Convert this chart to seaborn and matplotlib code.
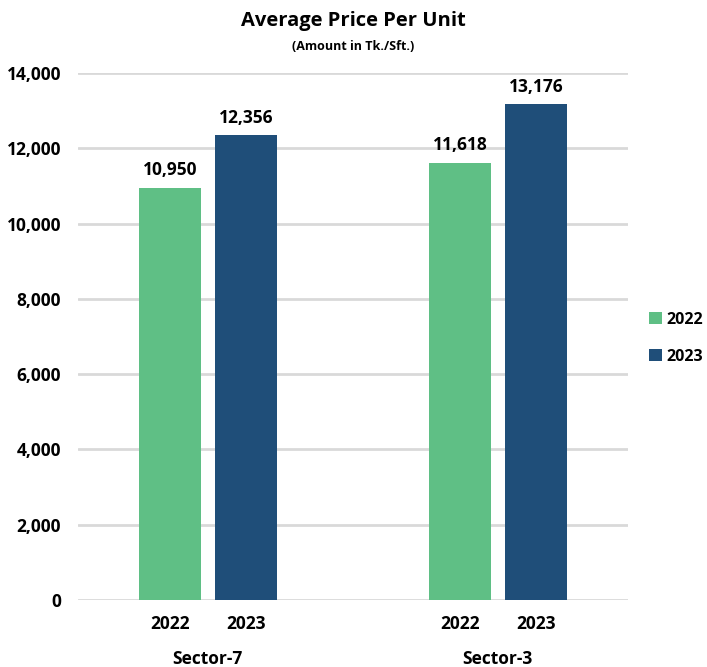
import matplotlib
matplotlib.use("Agg")
import matplotlib.pyplot as plt
import pandas as pd
import seaborn as sns

sectors = ["Sector-7", "Sector-3"]
years = ["2022", "2023"]
price_2022 = [10950, 11618]
price_2023 = [12356, 13176]
colors = ["#5fbf85", "#1f4e79"]

df = pd.DataFrame({
    "sector": sectors * 2,
    "year": [years[0]] * 2 + [years[1]] * 2,
    "price": price_2022 + price_2023,
})

sns.set_theme(style="white")
plt.rcParams["font.family"] = ["Open Sans", "DejaVu Sans"]
plt.rcParams["font.weight"] = "bold"
plt.rcParams["text.color"] = "black"
plt.rcParams["xtick.color"] = "black"
plt.rcParams["ytick.color"] = "black"

FS = 12.5

fig = plt.figure(figsize=(7.07, 6.67), dpi=100)
ax = fig.add_axes([0.110, 0.1004, 0.778, 0.7902])

sns.barplot(
    data=df, x="sector", y="price", hue="year", order=sectors, hue_order=years,
    palette=colors, width=0.524, gap=0.18, ax=ax, saturation=1, legend=True,
    linewidth=0, edgecolor="none",
)

ax.set_xlim(-0.448, 1.448)
ax.set_ylim(0, 14000)
ax.set_yticks(range(0, 14001, 2000))
ax.set_yticklabels([f"{v:,}" for v in range(0, 14001, 2000)], fontsize=FS, fontweight="bold")
ax.yaxis.grid(True, color="#d9d9d9", linewidth=2)
ax.set_axisbelow(True)
for s in ax.spines.values():
    s.set_visible(False)
ax.tick_params(axis="y", length=0, pad=12)
ax.tick_params(axis="x", length=0, pad=11)

for cont in ax.containers:
    ax.bar_label(cont, labels=[f"{v:,.0f}" for v in cont.datavalues],
                 padding=6, fontsize=FS, fontweight="bold")

# year labels under each bar, sector labels below them
centers, labels = [], []
for cont, yr in zip(ax.containers, years):
    for p in cont.patches:
        centers.append(p.get_x() + p.get_width() / 2)
        labels.append(yr)
ax.set_xticks(centers)
ax.set_xticklabels(labels, fontsize=FS, fontweight="bold")
for i, sec in enumerate(sectors):
    ax.text(i, -0.112, sec, transform=ax.get_xaxis_transform(),
            ha="center", va="center", fontsize=FS, fontweight="bold")
ax.set_xlabel("")
ax.set_ylabel("")

handles, _ = ax.get_legend_handles_labels()
ax.legend_.remove()
fig.legend(handles, years, loc="center left", bbox_to_anchor=(0.918, 0.493),
           frameon=False, prop={"size": 11.5, "weight": "bold"}, borderpad=0,
           borderaxespad=0, handlelength=0.8, handleheight=0.8,
           handletextpad=0.3, labelspacing=1.3)

fig.text(0.5, 0.969, "Average Price Per Unit", ha="center", va="center",
         fontsize=14.5, fontweight="bold")
fig.text(0.5, 0.931, "(Amount in Tk./Sft.)", ha="center", va="center",
         fontsize=9, fontweight="bold")

fig.savefig("out.png", dpi=100)
